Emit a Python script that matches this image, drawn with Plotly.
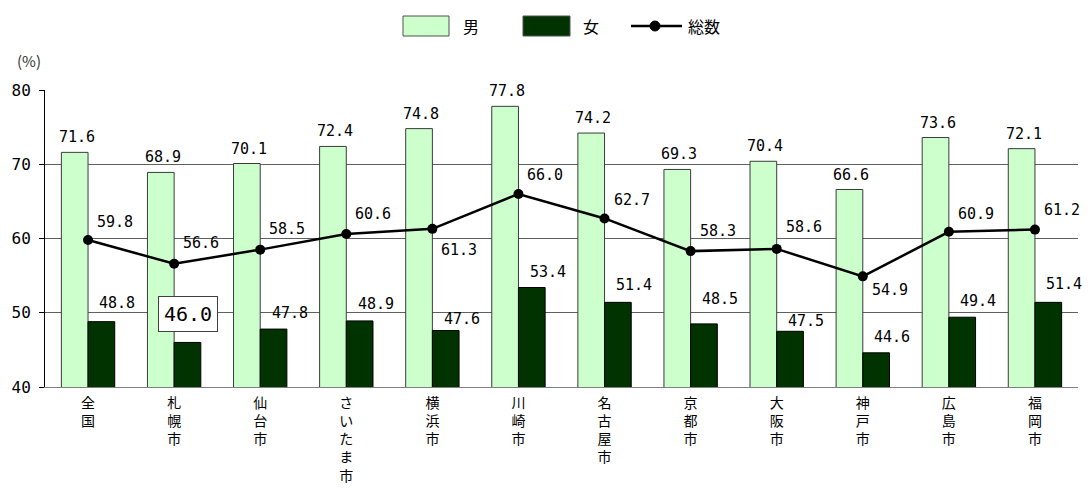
import plotly.graph_objects as go

categories = ["全国", "札幌市", "仙台市", "さいたま市", "横浜市", "川崎市",
              "名古屋市", "京都市", "大阪市", "神戸市", "広島市", "福岡市"]
male = [71.6, 68.9, 70.1, 72.4, 74.8, 77.8, 74.2, 69.3, 70.4, 66.6, 73.6, 72.1]
female = [48.8, 46.0, 47.8, 48.9, 47.6, 53.4, 51.4, 48.5, 47.5, 44.6, 49.4, 51.4]
total = [59.8, 56.6, 58.5, 60.6, 61.3, 66.0, 62.7, 58.3, 58.6, 54.9, 60.9, 61.2]

# label placement tweaks (pixels)
female_label_dy = [19, 28, 16, 17, 12, 16, 17, 25, 10, 16, 16, 18]
total_label_dy = [18, 21, 21, 20, -21, 19, 18, 20, 22, -14, 18, 20]

MALE_COLOR = "#CCFFCC"
FEMALE_COLOR = "#003300"
TOTAL_COLOR = "#000000"

xs = list(range(len(categories)))
ticktext = ["<br>".join(c) for c in categories]

NUM_FONT = "DejaVu Sans Mono"
JP_FONT = "Noto Sans CJK JP"

W, H = 1088, 488
ML, MR, MT, MB = 45, 10, 90, 101
PW, PH = W - ML - MR, H - MT - MB


def px(xp):
    return (xp - ML) / PW


def py(yp):
    return (H - MB - yp) / PH


fig = go.Figure()
fig.add_trace(go.Bar(
    x=xs, y=male, name="男",
    marker=dict(color=MALE_COLOR, line=dict(color="#3a3a3a", width=1)),
))
fig.add_trace(go.Bar(
    x=xs, y=female, name="女",
    marker=dict(color=FEMALE_COLOR, line=dict(color="#000000", width=1)),
))
fig.add_trace(go.Scatter(
    x=xs, y=total, name="総数", mode="lines+markers",
    line=dict(color=TOTAL_COLOR, width=2.5),
    marker=dict(color=TOTAL_COLOR, size=10),
))

half = (1 - 0.38) / 4
annotations = []
for i, v in enumerate(male):
    annotations.append(dict(
        x=i - half, y=v, text=f"{v:.1f}", showarrow=False,
        xanchor="center", yanchor="middle", xshift=2, yshift=15,
        font=dict(family=NUM_FONT, size=15, color="#000000"),
    ))
for i, v in enumerate(female):
    if i == 1:
        annotations.append(dict(
            x=i + half, y=v, text=f"{v:.1f}", showarrow=False,
            xanchor="center", yanchor="middle", xshift=1, yshift=female_label_dy[i],
            font=dict(family=NUM_FONT, size=20, color="#000000"),
            bordercolor="#404040", borderwidth=1, borderpad=5, bgcolor="#FFFFFF",
        ))
    else:
        annotations.append(dict(
            x=i + half, y=v, text=f"{v:.1f}", showarrow=False,
            xanchor="center", yanchor="middle", xshift=16, yshift=female_label_dy[i],
            font=dict(family=NUM_FONT, size=15, color="#000000"),
        ))
for i, v in enumerate(total):
    annotations.append(dict(
        x=i, y=v, text=f"{v:.1f}", showarrow=False,
        xanchor="center", yanchor="middle", xshift=27, yshift=total_label_dy[i],
        font=dict(family=NUM_FONT, size=15, color="#000000"),
    ))
annotations.append(dict(
    xref="paper", yref="paper", x=px(29), y=py(60), text="(%)", showarrow=False,
    xanchor="center", yanchor="middle",
    font=dict(family=JP_FONT, size=15, color="#333333"),
))

# legend (drawn at top centre)
shapes = [
    dict(type="rect", xref="paper", yref="paper",
         x0=px(403), x1=px(449), y0=py(36), y1=py(16),
         fillcolor=MALE_COLOR, line=dict(color="#505050", width=1)),
    dict(type="rect", xref="paper", yref="paper",
         x0=px(523), x1=px(570), y0=py(36), y1=py(16),
         fillcolor=FEMALE_COLOR, line=dict(color="#505050", width=1)),
    dict(type="line", xref="paper", yref="paper",
         x0=px(631), x1=px(682), y0=py(26), y1=py(26),
         line=dict(color=TOTAL_COLOR, width=2.5)),
    dict(type="circle", xref="paper", yref="paper",
         x0=px(650), x1=px(660), y0=py(31), y1=py(21),
         fillcolor=TOTAL_COLOR, line=dict(color=TOTAL_COLOR, width=1)),
]
for name, xc in [("男", 471), ("女", 591), ("総数", 704)]:
    annotations.append(dict(
        xref="paper", yref="paper", x=px(xc), y=py(26), text=name, showarrow=False,
        xanchor="center", yanchor="middle",
        font=dict(family=JP_FONT, size=16, color="#000000"),
    ))

fig.update_layout(
    width=W, height=H,
    margin=dict(l=ML, r=MR, t=MT, b=MB, autoexpand=False),
    paper_bgcolor="#FFFFFF", plot_bgcolor="#FFFFFF",
    barmode="group", bargap=0.38, bargroupgap=0,
    showlegend=False,
    annotations=annotations,
    shapes=shapes,
    xaxis=dict(
        range=[-0.5, len(categories) - 0.5],
        tickmode="array", tickvals=xs, ticktext=ticktext,
        showgrid=False, zeroline=False, automargin=False,
        showline=True, linecolor="#808080", linewidth=1,
        ticks="", ticklabelstandoff=3,
        tickfont=dict(family=JP_FONT, size=14, color="#000000"),
    ),
    yaxis=dict(
        range=[40, 80], dtick=10, tick0=40, automargin=False,
        showgrid=True, gridcolor="#606060", gridwidth=1,
        zeroline=False,
        showline=True, linecolor="#000000", linewidth=1,
        ticks="outside", ticklen=5, tickcolor="#000000",
        ticklabelstandoff=5,
        tickfont=dict(family=NUM_FONT, size=16, color="#000000"),
    ),
)

fig.write_html("out.html")
